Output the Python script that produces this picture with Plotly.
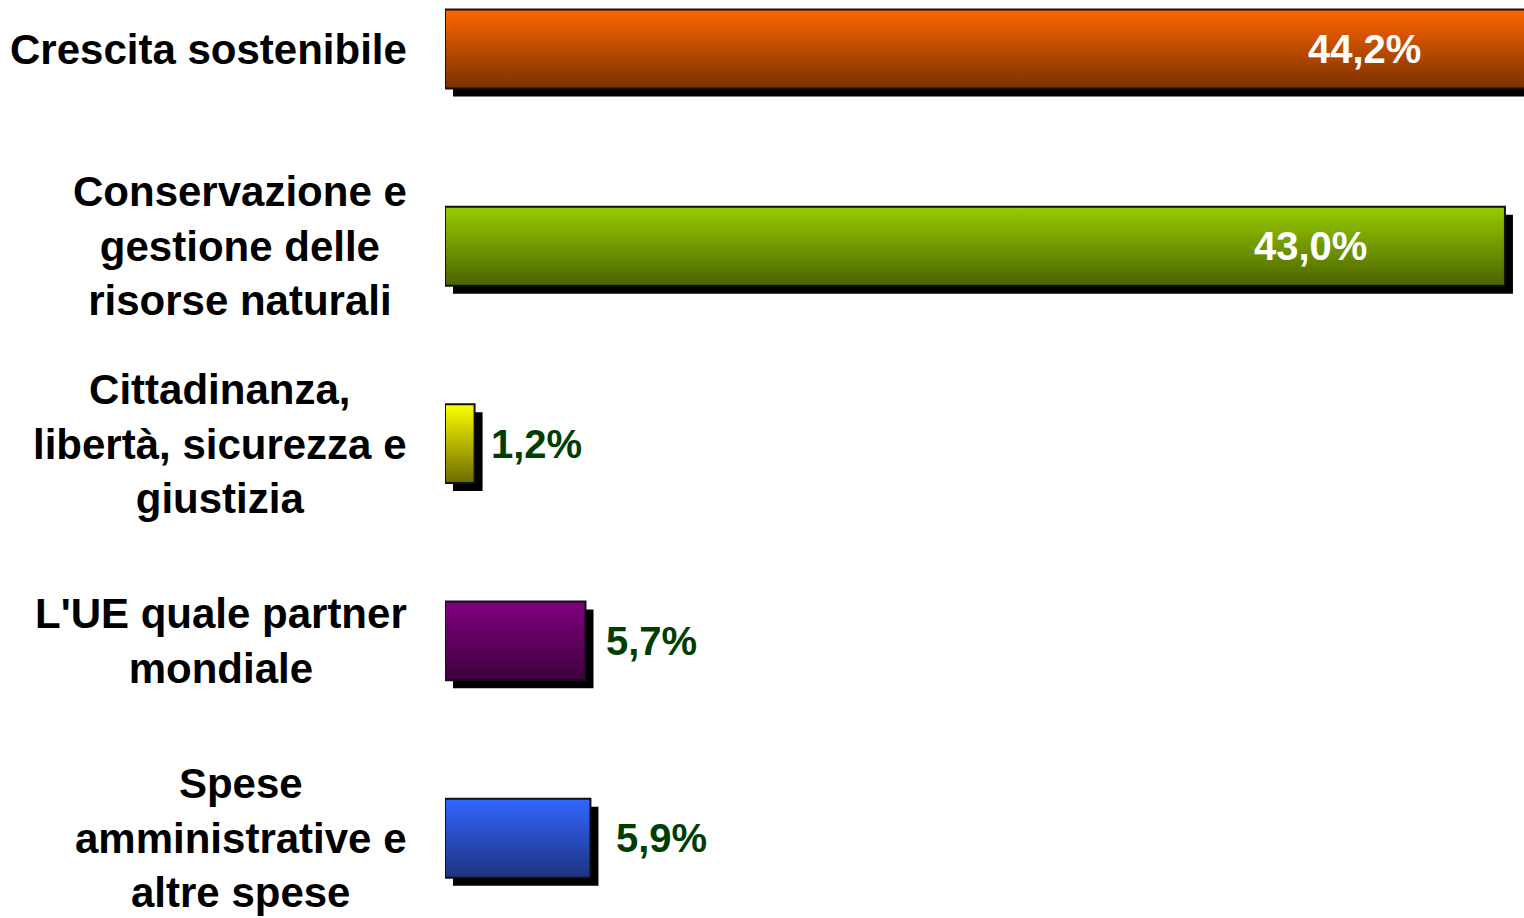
import plotly.graph_objects as go

# Ripartizione del bilancio UE per rubrica (in %)
labels = [
    "Crescita sostenibile",
    "Conservazione e<br>gestione delle<br>risorse naturali",
    "Cittadinanza,<br>libertà, sicurezza e<br>giustizia",
    "L'UE quale partner<br>mondiale",
    "Spese<br>amministrative e<br>altre spese",
]
values = [44.2, 43.0, 1.2, 5.7, 5.9]
value_text = ["44,2%", "43,0%", "1,2%", "5,7%", "5,9%"]

top_colors = ["#ff6600", "#99cc00", "#ffff00", "#800080", "#3366ff"]
bottom_colors = ["#7a3000", "#4a6300", "#6b6b00", "#3d003d", "#1c3380"]

n = len(values)
pos = [n - 1 - i for i in range(n)]  # first category at the top
half = 0.2
px_x = 24.65   # pixels per percent
px_y = 197.3   # pixels per category
dx, dy = 8 / px_x, 8 / px_y

W, H = 1524, 918
left = 445
first_center = 49

fig = go.Figure()

# black drop shadow
fig.add_trace(go.Bar(
    y=pos, x=values, base=dx, orientation="h",
    width=2 * half, offset=-half - dy,
    marker=dict(color="black", line=dict(width=0)),
    hoverinfo="skip", showlegend=False,
))

# gradient bars
for i in range(n):
    v, p = values[i], pos[i]
    fig.add_trace(go.Scatter(
        x=[0, v, v, 0, 0],
        y=[p - half, p - half, p + half, p + half, p - half],
        mode="lines", fill="toself",
        fillgradient=dict(type="vertical",
                          colorscale=[[0, bottom_colors[i]], [1, top_colors[i]]]),
        line=dict(color="#111111", width=2),
        hoverinfo="skip", showlegend=False,
    ))

# category labels
for i in range(n):
    fig.add_annotation(
        x=0, xref="paper", y=pos[i], yref="y",
        text=labels[i], showarrow=False,
        xanchor="right", yanchor="middle", align="center", xshift=-36,
        font=dict(family="Liberation Sans", size=42, color="black", weight="bold"),
    )

# value labels (inside the long bars, outside the short ones)
text_shift = [-112, -136, 14, 18, 24]
for i in range(n):
    inside = values[i] > 20
    fig.add_annotation(
        x=values[i] + text_shift[i] / px_x, y=pos[i], text=value_text[i], showarrow=False,
        xanchor="right" if inside else "left", yanchor="middle",
        font=dict(family="Liberation Sans", size=40,
                  color="white" if inside else "#003d00", weight="bold"),
    )

fig.update_layout(
    width=W, height=H,
    margin=dict(l=left, r=0, t=0, b=0),
    plot_bgcolor="white", paper_bgcolor="white",
    xaxis=dict(range=[0, (W - left) / px_x], visible=False, fixedrange=True),
    yaxis=dict(range=[4 - (H - first_center) / px_y, 4 + first_center / px_y],
               visible=False, fixedrange=True),
    barmode="overlay",
)

# drop the default body margin so the figure fills the window
fig.write_html("out.html", config={"displayModeBar": False},
               post_script="document.body.style.margin='0';document.body.style.overflow='hidden';")
